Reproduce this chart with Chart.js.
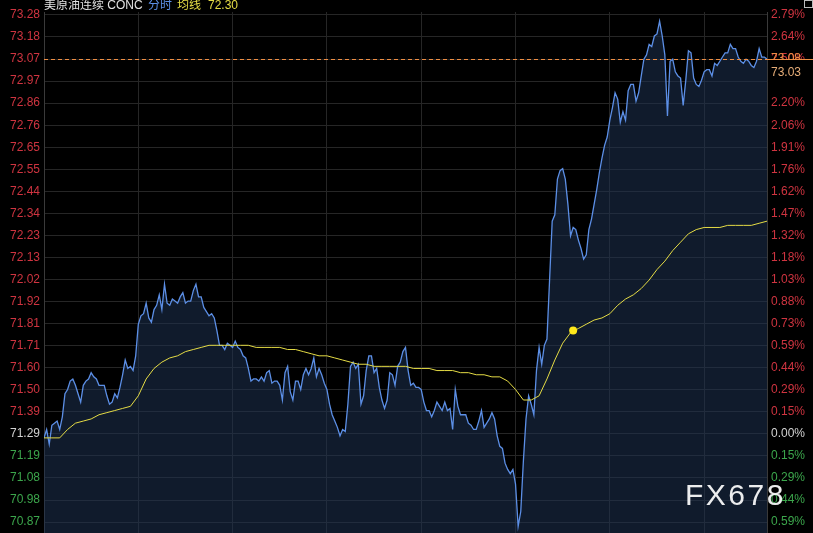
<!DOCTYPE html>
<html lang="zh-CN">
<head>
<meta charset="UTF-8">
<title>美原油连续 CONC 分时</title>
<script src="https://cdn.jsdelivr.net/npm/chart.js"></script>
<style>
    html, body { margin: 0; padding: 0; background: #000; }
    #wrap { width: 813px; height: 533px; }
</style>
</head>
<body>
<div id="wrap"><canvas id="chart" width="813" height="533"></canvas></div>
<script>
// session: 23 hours, one price every 5 minutes, average every 15 minutes
const symbolName = '美原油连续 CONC';
const sessionMinutes = 1380;
const gridStepMin = 180;
const priceStepMin = 5;
const avgStepMin = 15;

const prices = [
    71.27,71.31,71.24,71.33,71.34,71.35,71.31,71.37,71.48,71.50,71.54,71.55,71.52,71.48,71.44,71.52,71.54,71.55,71.58,71.56,
    71.55,71.52,71.52,71.52,71.47,71.43,71.44,71.48,71.46,71.51,71.57,71.64,71.60,71.61,71.59,71.66,71.81,71.85,71.86,71.91,
    71.84,71.82,71.88,71.90,71.95,71.88,72.00,71.91,71.90,71.93,71.92,71.91,71.94,71.96,71.91,71.92,71.92,71.97,72.00,71.94,
    71.94,71.89,71.87,71.85,71.86,71.84,71.78,71.71,71.71,71.69,71.72,71.71,71.70,71.73,71.70,71.69,71.66,71.65,71.60,71.54,
    71.55,71.55,71.54,71.56,71.54,71.58,71.59,71.53,71.54,71.54,71.52,71.45,71.58,71.61,71.49,71.45,71.54,71.54,71.50,71.57,
    71.60,71.57,71.60,71.65,71.56,71.60,71.57,71.53,71.50,71.43,71.38,71.35,71.32,71.28,71.31,71.30,71.43,71.61,71.63,71.60,
    71.62,71.43,71.47,71.59,71.66,71.66,71.58,71.60,71.51,71.45,71.41,71.45,71.58,71.57,71.52,71.61,71.63,71.68,71.70,71.59,
    71.52,71.53,71.51,71.51,71.50,71.44,71.40,71.40,71.37,71.40,71.44,71.42,71.40,71.44,71.40,71.41,71.31,71.50,71.42,71.38,
    71.38,71.38,71.34,71.33,71.31,71.31,71.35,71.40,71.32,71.34,71.36,71.39,71.36,71.28,71.23,71.22,71.15,71.12,71.10,71.12,
    71.05,70.85,70.92,71.16,71.36,71.47,71.43,71.38,71.59,71.70,71.62,71.71,71.74,72.02,72.30,72.33,72.50,72.54,72.55,72.50,
    72.38,72.23,72.27,72.26,72.21,72.17,72.12,72.14,72.26,72.31,72.38,72.45,72.53,72.60,72.66,72.70,72.78,72.84,72.91,72.88,
    72.77,72.82,72.78,72.92,72.95,72.95,72.87,72.91,72.99,73.07,73.09,73.14,73.13,73.18,73.19,73.25,73.18,73.09,72.80,73.06,
    73.07,73.01,72.99,72.98,72.85,72.97,73.11,73.10,72.98,72.95,72.94,72.97,73.01,73.02,73.02,72.99,73.05,73.04,73.06,73.08,
    73.10,73.10,73.14,73.12,73.12,73.08,73.06,73.05,73.07,73.06,73.04,73.03,73.06,73.12,73.08,73.08,73.07
];

const avgPrices = [
    71.27,71.27,71.27,71.31,71.34,71.35,71.36,71.38,71.39,71.40,71.41,71.42,71.47,71.55,71.60,71.63,71.65,71.66,71.68,71.69,
    71.70,71.71,71.71,71.71,71.71,71.71,71.71,71.70,71.70,71.70,71.70,71.69,71.69,71.68,71.67,71.66,71.66,71.65,71.64,71.63,
    71.62,71.62,71.61,71.61,71.61,71.61,71.61,71.60,71.60,71.60,71.59,71.59,71.59,71.58,71.58,71.57,71.57,71.56,71.56,71.54,
    71.50,71.45,71.45,71.47,71.55,71.64,71.72,71.77,71.79,71.81,71.83,71.84,71.86,71.90,71.93,71.95,71.98,72.02,72.07,72.11,
    72.16,72.20,72.24,72.26,72.27,72.27,72.27,72.28,72.28,72.28,72.28,72.29,72.30
];

// highlighted point on the average line
const markerMinute = 1010;
const markerPrice = 71.78;

// axis labels, top to bottom; index 19 is the previous settle (0.00%)
const priceTicks = ['73.28','73.18','73.07','72.97','72.86','72.76','72.65','72.55','72.44','72.34','72.23','72.13',
    '72.02','71.92','71.81','71.71','71.60','71.50','71.39','71.29','71.19','71.08','70.98','70.87'];
const pctTicks = ['2.79%','2.64%','2.50%','2.35%','2.20%','2.06%','1.91%','1.76%','1.62%','1.47%','1.32%','1.18%',
    '1.03%','0.88%','0.73%','0.59%','0.44%','0.29%','0.15%','0.00%','0.15%','0.29%','0.44%','0.59%'];
const baseIndex = 19;

const tagAbove = '73.08';
const tagBelow = '73.03';

// -----------------------------------------------------------------------
const FONT = 'Arial, "Liberation Sans", "Noto Sans CJK SC", sans-serif';
const RED = '#cf3440';
const GREEN = '#3ca64c';
const NEUTRAL = '#d2d2d2';
const GRID = '#262626';
const ORANGE = '#ee8e44';

const tickTop = parseFloat(priceTicks[0]);
const tickBottom = parseFloat(priceTicks[priceTicks.length - 1]);
const tickStep = (tickTop - tickBottom) / (priceTicks.length - 1);
const tickValues = priceTicks.map((_, i) => tickTop - i * tickStep);

const priceData = prices.map((p, i) => ({ x: i * priceStepMin, y: p }));
const avgData = avgPrices.map((p, i) => ({ x: i * avgStepMin, y: p }));

function labelColor(i) {
    if (i < baseIndex) return RED;
    if (i === baseIndex) return NEUTRAL;
    return GREEN;
}

const overlay = {
    id: 'overlay',
    beforeDraw(chart) {
        const ctx = chart.ctx;
        ctx.save();
        ctx.fillStyle = '#000';
        ctx.fillRect(0, 0, chart.width, chart.height);
        ctx.restore();
    },
    afterDatasetsDraw(chart) {
        const ctx = chart.ctx;
        const area = chart.chartArea;
        const y = Math.round(chart.scales.y.getPixelForValue(prices[prices.length - 1])) + 0.5;
        ctx.save();
        ctx.strokeStyle = ORANGE;
        ctx.lineWidth = 1;
        ctx.setLineDash([4, 3]);
        ctx.beginPath();
        ctx.moveTo(area.left, y);
        ctx.lineTo(area.right, y);
        ctx.stroke();
        ctx.restore();
    },
    afterDraw(chart) {
        const ctx = chart.ctx;
        const area = chart.chartArea;
        const ys = chart.scales.y;
        const y = Math.round(ys.getPixelForValue(prices[prices.length - 1])) + 0.5;

        // axis labels on both sides
        ctx.save();
        ctx.font = '12px ' + FONT;
        ctx.textBaseline = 'middle';
        tickValues.forEach((v, i) => {
            const py = ys.getPixelForValue(v);
            ctx.fillStyle = labelColor(i);
            ctx.textAlign = 'right';
            ctx.fillText(priceTicks[i], area.left - 4, py);
            ctx.textAlign = 'left';
            ctx.fillText(pctTicks[i], area.right + 4, py);
        });
        ctx.restore();

        // price tag on the right axis
        ctx.save();
        ctx.font = '12px ' + FONT;
        ctx.textBaseline = 'middle';
        ctx.textAlign = 'left';
        ctx.beginPath();
        ctx.rect(area.right, 0, chart.width - area.right, y);
        ctx.clip();
        ctx.fillStyle = ORANGE;
        ctx.fillText(tagAbove, area.right + 4, y - 1);
        ctx.restore();

        ctx.save();
        ctx.fillStyle = '#000';
        ctx.fillRect(area.right + 1, y, chart.width - area.right, 28);
        ctx.strokeStyle = ORANGE;
        ctx.beginPath();
        ctx.moveTo(area.right, y);
        ctx.lineTo(chart.width, y);
        ctx.stroke();
        ctx.font = '12px ' + FONT;
        ctx.textBaseline = 'middle';
        ctx.fillStyle = '#e6ad78';
        ctx.fillText(tagBelow, area.right + 4, y + 13);
        ctx.restore();

        // header
        ctx.save();
        ctx.font = '12px ' + FONT;
        ctx.textBaseline = 'middle';
        ctx.fillStyle = '#e2e2e2';
        ctx.fillText(symbolName, 44, 6);
        ctx.fillStyle = '#5c8fe6';
        ctx.fillText('分时', 148, 6);
        ctx.fillStyle = '#e5dc45';
        ctx.fillText('均线', 177, 6);
        ctx.fillText(avgPrices[avgPrices.length - 1].toFixed(2), 208, 6);
        ctx.restore();

        // small corner icon
        ctx.save();
        ctx.strokeStyle = '#bdbdbd';
        ctx.strokeRect(804.5, 0.5, 8, 7);
        ctx.restore();

        // watermark
        ctx.save();
        ctx.font = '30px ' + FONT;
        ctx.letterSpacing = '2.5px';
        ctx.textBaseline = 'middle';
        ctx.fillStyle = 'rgba(255,255,255,0.92)';
        ctx.fillText('FX678', 685, 497);
        ctx.restore();
    }
};

new Chart(document.getElementById('chart'), {
    type: 'line',
    data: {
        datasets: [
            {
                label: '分时',
                data: priceData,
                borderColor: '#5c8fe6',
                borderWidth: 1.3,
                backgroundColor: 'rgba(30,50,80,0.55)',
                fill: 'start',
                pointRadius: 0,
                tension: 0,
                order: 3
            },
            {
                label: '均线',
                data: avgData,
                borderColor: '#e5dc45',
                borderWidth: 1,
                fill: false,
                pointRadius: 0,
                tension: 0,
                order: 2
            },
            {
                label: 'marker',
                data: [{ x: markerMinute, y: markerPrice }],
                showLine: false,
                pointRadius: 4,
                pointBackgroundColor: '#ffe81a',
                pointBorderWidth: 0,
                order: 1
            }
        ]
    },
    options: {
        responsive: false,
        animation: false,
        events: [],
        layout: { autoPadding: false, padding: { top: 12, left: 0, right: 0, bottom: 0 } },
        plugins: {
            legend: { display: false },
            tooltip: { enabled: false }
        },
        scales: {
            x: {
                type: 'linear',
                min: 0,
                max: sessionMinutes,
                afterBuildTicks: s => {
                    const t = [];
                    for (let m = gridStepMin; m < sessionMinutes; m += gridStepMin) t.push({ value: m });
                    s.ticks = t;
                },
                afterFit: s => { s.height = 0; },
                ticks: { display: false },
                grid: { color: GRID, drawTicks: false },
                border: { display: false }
            },
            y: {
                position: 'left',
                bounds: 'data',
                min: 70.818,
                max: 73.294,
                afterBuildTicks: s => { s.ticks = tickValues.map(v => ({ value: v })); },
                afterFit: s => { s.width = 44; },
                ticks: { display: false },
                grid: { color: GRID, drawTicks: false },
                border: { display: true, color: '#3a3a3a' }
            },
            y2: {
                position: 'right',
                bounds: 'data',
                min: 70.818,
                max: 73.294,
                afterBuildTicks: s => { s.ticks = tickValues.map(v => ({ value: v })); },
                afterFit: s => { s.width = 46; },
                ticks: { display: false },
                grid: { display: false, drawTicks: false },
                border: { display: true, color: '#3a3a3a' }
            }
        }
    },
    plugins: [overlay]
});
</script>
</body>
</html>
